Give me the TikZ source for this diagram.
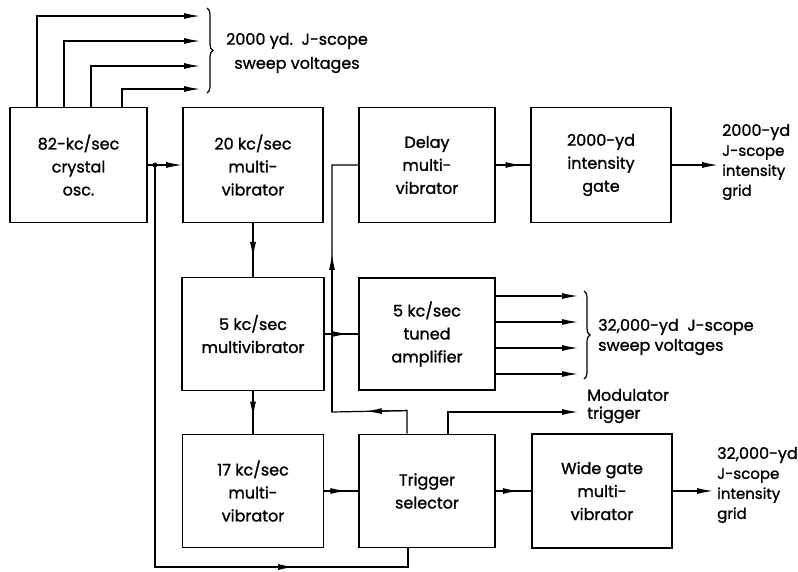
\documentclass[tikz,border=0pt]{standalone}
\usepackage{fontspec}
\setmainfont{Poppins}[FakeBold=1.2]
\usetikzlibrary{calc,arrows.meta,decorations.pathreplacing}

\tikzset{
  blk/.style={draw,line width=1.9pt,minimum width=138pt,minimum height=115pt,
    align=center,inner sep=2pt,font=\fontsize{16}{23}\selectfont},
  wire/.style={line width=1.2pt},
  outarrow/.style={wire,-{Latex[length=16pt,width=6pt]}},
  brc/.style={decorate,decoration={brace,amplitude=6pt},line width=1.2pt},
  lbl/.style={align=left,anchor=west,inner sep=0pt,font=\fontsize{15}{20}\selectfont}
}

\begin{document}
\begin{tikzpicture}[x=1pt,y=-1pt]
  \useasboundingbox (0,0) rectangle (798,571);
  % blocks
  \node[blk,minimum width=137pt] (B1) at (78.5,165) {82-kc/sec\\crystal\\osc.};
  \node[blk,minimum width=140pt] (B2) at (253,165) {20 kc/sec\\multi-\\vibrator};
  \node[blk,minimum width=136pt] (B3) at (427,165) {Delay\\multi-\\vibrator};
  \node[blk,minimum width=140pt] (B4) at (601,165) {2000-yd\\intensity\\gate};
  \node[blk,minimum width=142pt,minimum height=113pt] (B5) at (253,334) {5 kc/sec\\multivibrator};
  \node[blk,minimum width=136pt,minimum height=112pt] (B6) at (427,334) {5 kc/sec\\tuned\\amplifier};
  \node[blk,minimum width=141pt,minimum height=113pt] (B7) at (253,491) {17 kc/sec\\multi-\\vibrator};
  \node[blk,minimum width=136pt,minimum height=113pt] (B8) at (427,491) {Trigger\\selector};
  \node[blk,minimum width=140pt,minimum height=114pt] (B9) at (602,491) {Wide gate\\multi-\\vibrator};

  % 2000 yd sweep outputs
  \foreach \dx/\y in {28/16,55/41,82/66,113/89}{
    \coordinate (S) at (200,\y);
    \draw[outarrow] ($(B1.north west)+(\dx,0)$) |- (S);
  }
  \coordinate (BR1) at (207,8);
  \coordinate (BR2) at (207,93);
  \draw[brc] (BR1) -- (BR2);
  \node[align=center,inner sep=0pt,font=\fontsize{16}{24}\selectfont] (T1) at (297,53)
    {2000 yd.\ \ J-scope\\sweep voltages};

  % crystal osc to 20 kc and trigger selector
  \coordinate (J1) at ($(B1.east)+(7,0)$);
  \coordinate (J2) at ($(J1)+(0,402)$);
  \coordinate (J3) at ($(B8.south)+(-19,0)$);
  \draw[outarrow] (B1) -- (B2);
  \fill (J1) circle (2.4pt);
  \draw[wire] (J1) -- (J2) -- (J2 -| J3) -- (J3);
  \draw[outarrow] (J2) -- ($(J2)!0.55!(J2 -| J3)$);

  % main chain
  \draw[wire] (B2) -- (B5);
  \draw[outarrow] (B2.south) -- ($(B2.south)!0.65!(B5.north)$);
  \draw[wire] (B5) -- (B7);
  \draw[outarrow] (B5.south) -- ($(B5.south)!0.62!(B7.north)$);
  \draw[wire] (B3) -- (B4);
  \draw[outarrow] (B3.east) -- ($(B3.east)!0.75!(B4.west)$);
  \draw[wire] (B5) -- (B6);
  \draw[outarrow] (B5.east) -- ($(B5.east)!0.7!(B6.west)$);
  \draw[wire] (B7) -- (B8);
  \draw[outarrow] (B7.east) -- ($(B7.east)!0.65!(B8.west)$);
  \draw[wire] (B8) -- (B9);
  \draw[outarrow] (B8.east) -- ($(B8.east)!0.65!(B9.west)$);

  % 2000 yd intensity grid
  \coordinate (O1) at (718,165);
  \draw[outarrow] (B4) -- (O1);
  \node[lbl] (T2) at (722,162)
    {{\fontsize{16}{20}\selectfont 2000-yd}\\J-scope\\intensity\\grid};

  % 32,000 yd sweep outputs
  \foreach \dy in {-38,-12,14,40}{
    \coordinate (S) at (578,334+\dy);
    \draw[outarrow] (B6.east |- S) -- (S);
  }
  \coordinate (BR3) at (584,291);
  \coordinate (BR4) at (584,379);
  \draw[brc] (BR3) -- (BR4);
  \node[lbl,font=\fontsize{16}{20}\selectfont] (T3) at (598,337)
    {32,000-yd\ \ J-scope\\sweep voltages};

  % feedback to delay multivibrator
  \coordinate (F0) at ($(B8.north)+(-20,0)$);
  \coordinate (F1) at ($(F0)+(0,-23)$);
  \coordinate (F2) at (332,412);
  \draw[wire] (F0) -- (F1) -- (F2) |- (B3.west);
  \draw[outarrow] (F1) -- ($(F1)!0.55!(F2)$);
  \draw[outarrow] (F2) -- ($(F2)!0.64!(F2 |- B3.west)$);

  % modulator trigger
  \coordinate (M0) at ($(B8.north)+(21,0)$);
  \coordinate (M2) at (578,412);
  \draw[outarrow] (M0) |- (M2);
  \node[lbl,font=\fontsize{16}{18}\selectfont] (T4) at (587,406) {Modulator\\trigger};

  % 32,000 yd intensity grid
  \coordinate (O2) at (713,491);
  \draw[outarrow] (B9) -- (O2);
  \node[lbl] (T5) at (717,485)
    {{\fontsize{16}{20}\selectfont 32,000-yd}\\J-scope\\intensity\\grid};
\end{tikzpicture}
\end{document}
